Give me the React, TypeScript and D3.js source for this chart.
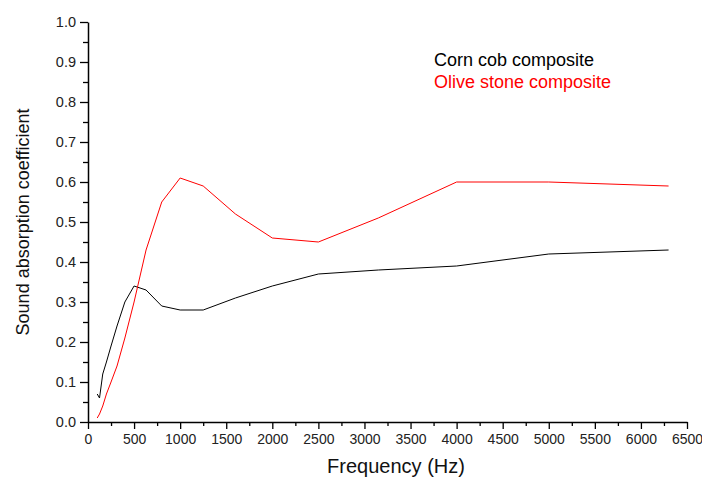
import { useEffect, useRef } from 'react'
import * as d3 from 'd3'

const freqs = [100, 125, 160, 200, 250, 315, 400, 500, 630, 800, 1000, 1250, 1600, 2000, 2500, 3150, 4000, 5000, 6300]
const cornCob = [0.07, 0.06, 0.12, 0.15, 0.19, 0.24, 0.30, 0.34, 0.33, 0.29, 0.28, 0.28, 0.31, 0.34, 0.37, 0.38, 0.39, 0.42, 0.43]
const oliveStone = [0.01, 0.02, 0.04, 0.07, 0.10, 0.14, 0.21, 0.30, 0.43, 0.55, 0.61, 0.59, 0.52, 0.46, 0.45, 0.51, 0.60, 0.60, 0.59]
const seriesNames = ['Corn cob composite', 'Olive stone composite']
const seriesColors = ['#000000', '#ff0000']
const xTicks = d3.range(0, 6501, 500)
const yTicks = d3.range(0, 1.01, 0.1)

export default function App() {
  const svgRef = useRef<SVGSVGElement>(null)

  useEffect(() => {
    if (!svgRef.current) return
    const width = 702
    const height = 479
    const margin = { top: 22, right: 15, bottom: 57, left: 88 }
    const W = width - margin.left - margin.right
    const H = height - margin.top - margin.bottom

    const svg = d3.select(svgRef.current)
    svg.selectAll('*').remove()
    const g = svg.append('g').attr('transform', `translate(${margin.left},${margin.top})`)

    const x = d3.scaleLinear().domain([0, 6500]).range([0, W])
    const y = d3.scaleLinear().domain([0, 1]).range([H, 0])
    const font = 'Arial, "Liberation Sans", sans-serif'

    // minor ticks
    g.append('g').attr('transform', `translate(0,${H})`)
      .call(d3.axisBottom(x).tickValues(d3.range(250, 6500, 500)).tickSize(4).tickFormat(() => ''))
      .call(a => a.select('.domain').remove())
      .call(a => a.selectAll('.tick line').attr('stroke', '#000').attr('stroke-width', 1.3))
    g.append('g')
      .call(d3.axisLeft(y).tickValues(d3.range(0.05, 1, 0.1)).tickSize(5).tickFormat(() => ''))
      .call(a => a.select('.domain').remove())
      .call(a => a.selectAll('.tick line').attr('stroke', '#000').attr('stroke-width', 1.3))

    // major axes
    g.append('g').attr('transform', `translate(0,${H})`)
      .call(d3.axisBottom(x).tickValues(xTicks).tickSize(7).tickSizeOuter(0).tickPadding(5).tickFormat(d3.format('d')))
      .call(a => a.select('.domain').attr('stroke', '#000').attr('stroke-width', 1.5))
      .call(a => a.selectAll('.tick line').attr('stroke', '#000').attr('stroke-width', 1.3))
      .call(a => a.selectAll('.tick text').attr('fill', '#222').attr('font-size', 14).attr('font-family', font))
    g.append('g')
      .call(d3.axisLeft(y).tickValues(yTicks).tickSize(8).tickSizeOuter(0).tickPadding(4).tickFormat(d3.format('.1f')))
      .call(a => a.select('.domain').attr('stroke', '#000').attr('stroke-width', 1.5))
      .call(a => a.selectAll('.tick line').attr('stroke', '#000').attr('stroke-width', 1.3))
      .call(a => a.selectAll('.tick text').attr('fill', '#222').attr('font-size', 14.5).attr('font-family', font))

    // lines
    const line = d3.line<number>().x((_, i) => x(freqs[i])).y(d => y(d))
    ;[cornCob, oliveStone].forEach((vals, i) => {
      g.append('path').datum(vals).attr('d', line)
        .attr('fill', 'none').attr('stroke', seriesColors[i]).attr('stroke-width', 1)
    })

    // legend
    seriesNames.forEach((name, i) => {
      svg.append('text').attr('x', 434).attr('y', 66 + i * 22)
        .attr('fill', seriesColors[i]).attr('font-size', 18).attr('font-family', font).text(name)
    })

    // axis titles
    svg.append('text').attr('x', 396).attr('y', 473)
      .attr('text-anchor', 'middle').attr('font-size', 20).attr('font-family', font).attr('fill', '#111')
      .text('Frequency (Hz)')
    svg.append('text').attr('transform', `translate(29,${margin.top + H / 2}) rotate(-90)`)
      .attr('text-anchor', 'middle').attr('font-size', 18).attr('font-family', font).attr('fill', '#111')
      .text('Sound absorption coefficient')
  }, [])

  return <svg ref={svgRef} width={702} height={479} style={{ position: 'absolute', left: 0, top: 0, background: '#fff' }} />
}
